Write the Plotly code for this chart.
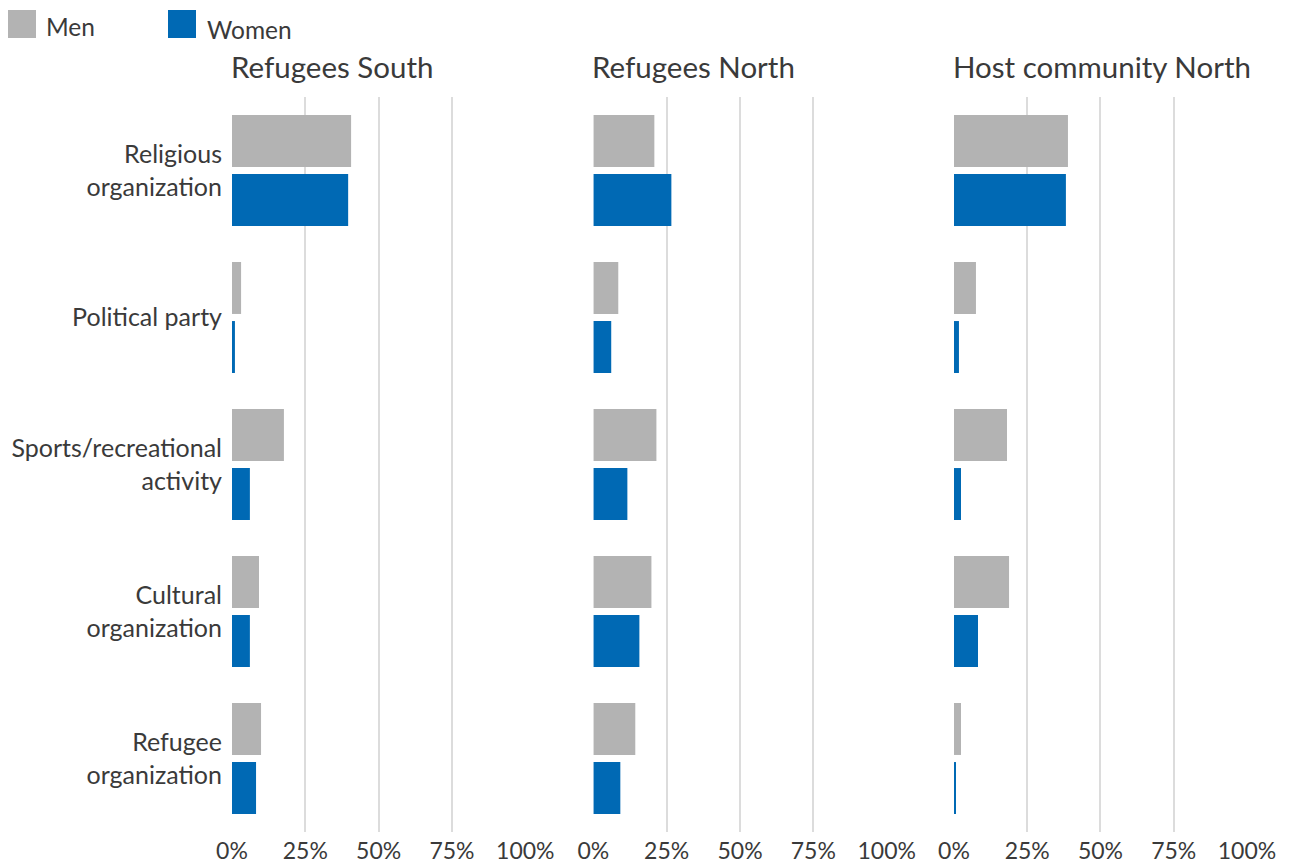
import plotly.graph_objects as go
from plotly.subplots import make_subplots

categories = ["Religious<br>organization", "Political party", "Sports/recreational<br>activity",
              "Cultural<br>organization", "Refugee<br>organization"]
panels = ["Refugees South", "Refugees North", "Host community North"]

men_south = [40.6, 3.1, 17.7, 9.2, 9.9]
women_south = [39.6, 1.0, 6.1, 6.1, 8.2]
men_north = [20.8, 8.5, 21.5, 19.8, 14.3]
women_north = [26.6, 6.1, 11.6, 15.7, 9.2]
men_host = [38.9, 7.5, 18.1, 18.8, 2.4]
women_host = [38.2, 1.7, 2.4, 8.2, 0.7]

x_ticks = [0, 25, 50, 75, 100]
x_tick_labels = ["0%", "25%", "50%", "75%", "100%"]

MEN_C = "#b3b3b3"
WOMEN_C = "#0069b4"
TXT = "#3a3a3a"
FONT = "Lato"

fig = make_subplots(rows=1, cols=3, shared_yaxes=True, horizontal_spacing=0.0)

data = [(men_south, women_south), (men_north, women_north), (men_host, women_host)]
for i, (m, w) in enumerate(data):
    fig.add_trace(go.Bar(y=categories, x=m, orientation="h", name="Men",
                         marker=dict(color=MEN_C, line=dict(width=0)), showlegend=False),
                  row=1, col=i + 1)
    fig.add_trace(go.Bar(y=categories, x=w, orientation="h", name="Women",
                         marker=dict(color=WOMEN_C, line=dict(width=0)), showlegend=False),
                  row=1, col=i + 1)

PW = 1015.0  # plot width in px
PH = 735.0   # plot height in px
domains = [[0.0, 0.289], [0.356, 0.645], [0.7113, 1.0]]
for i in range(3):
    ax = "xaxis" if i == 0 else f"xaxis{i+1}"
    fig.layout[ax].update(domain=domains[i], range=[0, 100], tickvals=x_ticks,
                          ticktext=x_tick_labels, showgrid=True, gridcolor="#dcdcdc",
                          gridwidth=1.5, zeroline=False, showline=False, ticks="",
                          tickfont=dict(size=23, color=TXT, family=FONT),
                          ticklabelstandoff=3, automargin=False, fixedrange=True)

fig.update_yaxes(autorange="reversed", showgrid=False, zeroline=False, ticks="",
                 tickfont=dict(size=25, color=TXT, family=FONT), ticklabelstandoff=9,
                 automargin=False)
fig.update_yaxes(showticklabels=False, row=1, col=2)
fig.update_yaxes(showticklabels=False, row=1, col=3)

# subplot titles
for i, t in enumerate(panels):
    fig.add_annotation(text=t, xref="paper", yref="paper", x=domains[i][0] - 3 / PW, y=1.0,
                       xanchor="left", yanchor="bottom", yshift=11, showarrow=False,
                       font=dict(size=29.5, color=TXT, family=FONT))

# legend (custom), positions relative to plot area (left=232px, top=97px on screen)
def px_x(x):
    return (x - 232) / PW

def px_y(y):
    return 1.0 + (97 - y) / PH

fig.add_shape(type="rect", xref="paper", yref="paper", x0=px_x(8), x1=px_x(36),
              y0=px_y(38), y1=px_y(10), fillcolor=MEN_C, line=dict(width=0))
fig.add_annotation(text="Men", xref="paper", yref="paper", x=px_x(44), y=px_y(26),
                   xanchor="left", yanchor="middle", showarrow=False,
                   font=dict(size=24.5, color=TXT, family=FONT))
fig.add_shape(type="rect", xref="paper", yref="paper", x0=px_x(168), x1=px_x(196),
              y0=px_y(38), y1=px_y(10), fillcolor=WOMEN_C, line=dict(width=0))
fig.add_annotation(text="Women", xref="paper", yref="paper", x=px_x(205), y=px_y(29),
                   xanchor="left", yanchor="middle", showarrow=False,
                   font=dict(size=24.5, color=TXT, family=FONT))

# page body has an 8px margin, so the figure is 8px smaller and margins shifted
fig.update_layout(width=1282, height=857, barmode="group", bargap=0.197, bargroupgap=0.12,
                  margin=dict(l=224, r=43, t=89, b=33, autoexpand=False), plot_bgcolor="white",
                  paper_bgcolor="white", font=dict(family=FONT, color=TXT))

fig.write_html("out.html")
